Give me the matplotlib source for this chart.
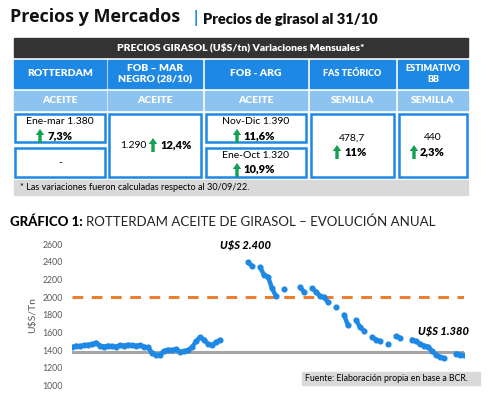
import numpy as np
import matplotlib
matplotlib.use("Agg")
import matplotlib.pyplot as plt
import matplotlib.patches as mpatches

plt.rcParams['font.family'] = ['Lato', 'DejaVu Sans']

# ---- table data
col_titles = ['ROTTERDAM', 'FOB – MAR\nNEGRO (28/10)', 'FOB - ARG', 'FAS TEÓRICO', 'ESTIMATIVO\nBB']
col_products = ['ACEITE', 'ACEITE', 'ACEITE', 'SEMILLA', 'SEMILLA']
col_edges = [(14, 106), (108, 202), (205, 307), (310, 395), (398, 468)]
table_title = 'PRECIOS GIRASOL (U$S/tn) Variaciones Mensuales*'
footnote = '* Las variaciones fueron calculadas respecto al 30/09/22.'

# ---- chart data (Rotterdam sunflower oil, U$S/tn, NaN = no quote)
nan = np.nan
price = [1430, 1450, 1445, 1455, 1460, 1465, 1485, 1450, 1440, 1450,
         1445, 1440, 1455, 1450, 1460, 1455, 1450, 1455, 1440, 1430,
         1370, 1340, 1350, 1390, 1405, 1400, 1410, 1380, 1385, 1400,
         1430, 1500, 1545, 1520, 1470, 1455, 1490, 1515, nan, nan,
         nan, nan, nan, nan, 2395, 2350, nan, 2340, 2250, 2230,
         2100, 2010, nan, 2090, nan, nan, nan, 2110, 2060, nan,
         2100, 2060, 2010, 2000, 1940, nan, 1890, nan, 1800, 1680,
         nan, 1740, 1660, 1620, nan, 1545, 1520, 1500, nan, 1470,
         nan, 1560, 1540, nan, nan, 1520, 1500, 1470, 1450, 1440,
         1390, 1350, 1320, 1310, nan, nan, 1360, 1350, 1340]
ref_high = 2000
ref_now = 1380
peak_label = 'U$S 2.400'
now_label = 'U$S 1.380'

blue = '#1E88E5'
light_blue = '#8CC3F0'
green = '#12A150'
W = 'heavy'

fig = plt.figure(figsize=(4.92, 3.93), dpi=100)
bg = fig.add_axes([0, 0, 1, 1])
bg.set_xlim(0, 492)
bg.set_ylim(393, 0)
bg.axis('off')

# header
bg.text(10, 17, 'Precios y Mercados', fontsize=13, fontweight='bold', family='Open Sans',
        va='center', color='#111111')
bg.text(194, 18, '|', fontsize=12, fontweight='bold', va='center', color=blue)
bg.text(203, 19, 'Precios de girasol al 31/10', fontsize=10.5, fontweight=W, va='center', color='#111111')

# table title bar
bg.add_patch(mpatches.Rectangle((14, 38), 454, 19, color='#333333'))
bg.text(241, 48, table_title, fontsize=7.5, fontweight=W, color='white', ha='center', va='center')

for (x0, x1), title, prod in zip(col_edges, col_titles, col_products):
    xc = (x0 + x1) / 2
    bg.add_patch(mpatches.Rectangle((x0, 60), x1 - x0, 28, color=blue))
    bg.add_patch(mpatches.Rectangle((x0, 91), x1 - x0, 19, color=light_blue))
    fs = 6.5 if title in ('FAS TEÓRICO', 'ESTIMATIVO\nBB') else 7.5
    bg.text(xc, 74, title, fontsize=fs, fontweight=W, color='white', ha='center', va='center',
            linespacing=1.35)
    bg.text(xc, 100.5, prod, fontsize=7.5, fontweight=W, color='white', ha='center', va='center')


def cell(x0, x1, y0, y1):
    bg.add_patch(mpatches.Rectangle((x0 + 1, y0 + 1), x1 - x0 - 2, y1 - y0 - 2,
                                    facecolor='white', edgecolor=blue, lw=1.8))


def arrow(x, ybase, h=14):
    bg.add_patch(mpatches.FancyArrow(x, ybase, 0, -h, width=3.4, head_width=8.5, head_length=6,
                                     length_includes_head=True, color=green, lw=0))


# col 1
cell(14, 106, 113, 143)
cell(14, 106, 147, 178)
bg.text(60, 122, 'Ene-mar 1.380', fontsize=7.5, ha='center', va='center')
arrow(40, 143)
bg.text(47, 136, '7,3%', fontsize=8, fontweight=W, va='center')
bg.text(60, 163, '-', fontsize=7.5, ha='center', va='center')
# col 2
cell(108, 202, 113, 178)
bg.text(147, 145, '1.290', fontsize=7.5, ha='right', va='center')
arrow(153, 152)
bg.text(160, 145, '12,4%', fontsize=8, fontweight=W, va='center')
# col 3
cell(205, 307, 113, 143)
cell(205, 307, 147, 178)
bg.text(256, 122, 'Nov-Dic 1.390', fontsize=7.5, ha='center', va='center')
arrow(237, 143)
bg.text(243, 136, '11,6%', fontsize=8, fontweight=W, va='center')
bg.text(256, 155, 'Ene-Oct 1.320', fontsize=7.5, ha='center', va='center')
arrow(237, 177)
bg.text(243, 169, '10,9%', fontsize=8, fontweight=W, va='center')
# col 4
cell(310, 395, 113, 178)
bg.text(352, 138, '478,7', fontsize=7.5, ha='center', va='center')
arrow(337, 159)
bg.text(344, 152, '11%', fontsize=8, fontweight=W, va='center')
# col 5
cell(398, 468, 113, 178)
bg.text(433, 138, '440', fontsize=7.5, ha='center', va='center')
arrow(414, 159)
bg.text(420, 152, '2,3%', fontsize=8, fontweight=W, va='center')

# footnote
bg.add_patch(mpatches.Rectangle((14, 180), 454, 15, color='#D9D9D9'))
bg.text(20, 188, footnote, fontsize=6.6, va='center')

# chart title
t = bg.text(10, 222, 'GRÁFICO 1: ', fontsize=9.5, fontweight='black', va='center')
bg.annotate('ROTTERDAM ACEITE DE GIRASOL – EVOLUCIÓN ANUAL', xycoords=t, xy=(1, 0.5),
            fontsize=9.5, va='center', color='#222222')

# source box
bg.add_patch(mpatches.Rectangle((302, 372), 178, 13, color='#D9D9D9'))
bg.text(305, 378.5, 'Fuente: Elaboración propia en base a BCR.', fontsize=6.3, va='center')

# ---- line chart
ax = fig.add_axes([72 / 492, 1 - 385.5 / 393, 392 / 492, 141.5 / 393])
ax.set_facecolor('none')
days = np.arange(len(price))
ax.axhline(ref_high, color='#ED7D31', lw=2.2, dashes=(3.5, 2.8), zorder=1)
ax.axhline(ref_now, color='#A5A5A5', lw=2.2, zorder=1)
ax.plot(days, price, color=blue, lw=3.2, marker='o', ms=3.4, solid_capstyle='round', zorder=2)
ax.set_xlim(0, len(price) - 1)
ax.set_ylim(1000, 2600)
ax.set_yticks(range(1000, 2601, 200))
ax.set_xticks([])
ax.tick_params(axis='y', length=0, labelsize=6.3, labelcolor='#595959', pad=6.5)
for s in ax.spines.values():
    s.set_visible(False)
ax.set_ylabel('U$S/Tn', fontsize=7.5, color='#595959', labelpad=4)
ax.text(43.3, 2585, peak_label, fontsize=8, fontweight='black', style='italic',
        ha='center', va='center', clip_on=False)
ax.text(93, 1615, now_label, fontsize=8, fontweight='black', style='italic',
        ha='center', va='center', clip_on=False)

fig.savefig('out.png', dpi=100)
